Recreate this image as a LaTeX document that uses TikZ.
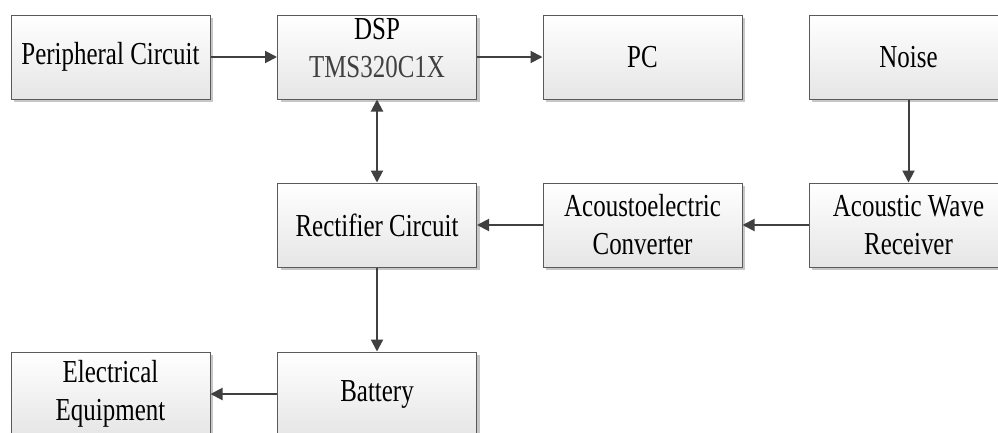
\documentclass[tikz,border=0pt]{standalone}
\usepackage{fontspec}
\setmainfont[FakeStretch=0.78]{Liberation Serif}
\usetikzlibrary{arrows.meta,shadows}
\definecolor{linec}{HTML}{404040}
\definecolor{boxc}{HTML}{5A5A5A}
\begin{document}
\begin{tikzpicture}[x=1pt,y=-1pt,
  blk/.style={draw=boxc, line width=1pt, rectangle, minimum width=199pt, minimum height=84pt,
    inner sep=0pt, top color=white, bottom color=black!10, align=center,
    font=\fontsize{32}{38}\selectfont,
    drop shadow={shadow xshift=3pt, shadow yshift=-3pt, fill=black!22, opacity=1}},
  txt/.style={inner sep=0pt, align=center, font=\fontsize{32}{38}\selectfont},
  tip/.style={Triangle[length=12pt,width=12pt]},
  arr/.style={draw=linec, line width=2pt, -{Triangle[length=12pt,width=12pt]}},
  darr/.style={draw=linec, line width=2pt, {Triangle[length=12pt,width=12pt]}-{Triangle[length=12pt,width=12pt]}}]
\clip (0,0) rectangle (998,432);
\fill[white] (0,0) rectangle (998,432);
% top row
\node[blk] (per) at (110.5,57) {Peripheral Circuit};
\node[blk] (dsp) at (377,57) {};
\node[txt] (dsptxt) at (377,48) {DSP\\{\color{linec}TMS320C1X}};
\node[blk] (pc) at (642.5,57) {PC};
\node[blk] (noise) at (908.5,57) {Noise};
% middle row
\node[blk] (rect) at (377,225) {Rectifier Circuit};
\node[blk] (aco) at (642.5,225) {Acoustoelectric\\Converter};
\node[blk] (awr) at (908.5,225) {Acoustic Wave\\Receiver};
% bottom row
\node[blk] (ee) at (110.5,394) {Electrical\\Equipment};
\node[blk] (bat) at (377,394) {Battery};
% connectors
\draw[arr] (per.east) -- (dsp.west);
\draw[arr] (dsp.east) -- (pc.west);
\draw[darr] (dsp.south) -- (rect.north);
\draw[arr] (noise.south) -- (awr.north);
\draw[arr] (awr.west) -- (aco.east);
\draw[arr] (aco.west) -- (rect.east);
\draw[arr] (rect.south) -- (bat.north);
\draw[arr] (bat.west) -- (ee.east);
\end{tikzpicture}
\end{document}
